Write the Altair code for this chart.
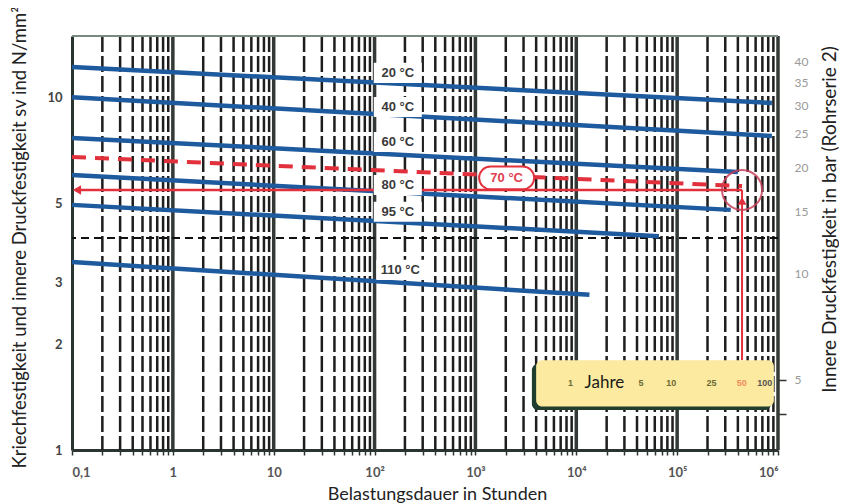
import altair as alt
import pandas as pd

# ---------------- data ----------------
temps = ["20 °C", "40 °C", "60 °C", "80 °C", "95 °C", "110 °C"]
t_start = [0.1, 0.1, 0.1, 0.1, 0.1, 0.1]
t_end = [8.7e5, 8.7e5, 4.0e5, 3.4e5, 6.6e4, 1.35e4]
s_start = [12.25, 10.05, 7.7, 6.04, 4.97, 3.42]
s_end = [9.68, 7.8, 6.16, 4.81, 4.05, 2.76]

label_t = [170, 170, 170, 170, 170, 180]
label_s = [11.78, 9.43, 7.5, 5.66, 4.75, 3.25]

# 70 °C (red dashed) curve
red70_t = [0.1, 4.4e5]
red70_s = [6.8, 5.62]
red70_label_t = [2040]
red70_label_s = [5.93]

# 50-year read-off
read_t = 4.4e5
read_s = 5.48

# year legend
years = ["1", "5", "10", "25", "50", "100"]
years_h = [8760, 43800, 87600, 219000, 438000, 740000]
years_color = ["#6b6b35", "#6b6b35", "#6b6b35", "#6b6b35", "#f08a60", "#555555"]

# axes
x_decades = [0.1, 1, 10, 100, 1000, 10000, 100000, 1000000]
x_labels = ["0,1", "1", "10", "10²", "10³", "10⁴", "10⁵", "10⁶"]
x_minor = [d * 10.0 ** k for k in range(-1, 6) for d in range(2, 10)]
y_left_ticks = [1, 2, 3, 5, 10]
y_right_ticks = [40, 35, 30, 25, 20, 15, 10, 5, 4]
h_dashed = [4]

BLUE = "#1d5a9e"
RED = "#e2303c"

W, H = 706, 414
xs = alt.Scale(type="log", domain=[0.1, 1e6])
ys = alt.Scale(type="log", domain=[1, 15])

# ---------------- build tables ----------------
rows = []
for i, t in enumerate(temps):
    rows.append({"temp": t, "t": t_start[i], "s": s_start[i], "o": 0})
    rows.append({"temp": t, "t": t_end[i], "s": s_end[i], "o": 1})
curves = pd.DataFrame(rows)
labels = pd.DataFrame({"temp": temps, "t": label_t, "s": label_s})
red70 = pd.DataFrame({"t": red70_t, "s": red70_s})
red70_lab = pd.DataFrame({"t": red70_label_t, "s": red70_label_s, "txt": ["70 °C"]})
minor = pd.DataFrame({"t": x_minor})
decades = pd.DataFrame({"t": x_decades[1:]})
hd = pd.DataFrame({"s": h_dashed})
yrs = pd.DataFrame({"txt": years, "t": years_h, "c": years_color, "s": [1.55] * 6})

lab_expr = " : ".join(
    f"datum.value == {v} ? '{l}'" for v, l in zip(x_decades, x_labels)
) + " : ''"

x_axis = alt.Axis(values=x_decades + x_minor, labelExpr=lab_expr, labelOverlap=False,
                  title="Belastungsdauer in Stunden", titleFont="Lato", titleFontSize=18,
                  titleFontWeight="normal", titleColor="#222",
                  titleX=365, titleY=44, titleAlign="center", titleBaseline="middle",
                  labelFont="Lato", labelFontSize=13, labelFontWeight="bold",
                  labelColor="#555", labelPadding=11, tickSize=5, tickColor="#2b3530",
                  tickWidth=1.5, domainColor="#2b3530", domainWidth=3, grid=False)
y_axis = alt.Axis(values=y_left_ticks, title="Kriechfestigkeit und innere Druckfestigkeit sv ind N/mm²",
                  titleFont="Lato", titleFontSize=18.5, titleFontWeight="normal",
                  titleColor="#222", titleAngle=270, titleX=-53, titleY=201,
                  titleAlign="center", titleBaseline="middle",
                  labelFont="Lato", labelFontSize=13, labelFontWeight="bold",
                  labelColor="#444", labelPadding=10, ticks=False,
                  domainColor="#2b3530", domainWidth=3, grid=False)

X = lambda: alt.X("t:Q", scale=xs, axis=x_axis)
Y = lambda: alt.Y("s:Q", scale=ys, axis=y_axis)

# grid
g_minor = alt.Chart(minor).mark_rule(color="#1e1e1e", strokeWidth=2.5, strokeDash=[16, 4]).encode(x=X())
g_dec = alt.Chart(decades).mark_rule(color="#333a36", strokeWidth=3.5).encode(x=X())
g_h = alt.Chart(hd).mark_rule(color="#111", strokeWidth=2, strokeDash=[8, 5]).encode(y=Y())
top = alt.Chart(pd.DataFrame({"s": [15]})).mark_rule(color="#7a8a80", strokeWidth=2).encode(y=Y())

blue = alt.Chart(curves).mark_line(color=BLUE, strokeWidth=4.5).encode(
    x=X(), y=Y(), detail="temp:N", order="o:Q")
red_d = alt.Chart(red70).mark_line(color=RED, strokeWidth=4, strokeDash=[14, 9]).encode(x=X(), y=Y())

arrow_h = alt.Chart(pd.DataFrame({"t": [0.108], "t2": [read_t], "s": [read_s]})).mark_rule(
    color=RED, strokeWidth=2.5).encode(x=X(), x2="t2:Q", y=Y())
arrow_v = alt.Chart(pd.DataFrame({"t": [read_t], "s": [1.8], "s2": [read_s]})).mark_rule(
    color=RED, strokeWidth=2).encode(x=X(), y=Y(), y2="s2:Q")
head_l = alt.Chart(pd.DataFrame({"t": [0.112], "s": [read_s]})).mark_point(
    shape="triangle-left", filled=True, color=RED, size=90, opacity=1).encode(x=X(), y=Y())
head_u = alt.Chart(pd.DataFrame({"t": [read_t], "s": [5.1]})).mark_point(
    shape="triangle-up", filled=True, color=RED, size=80, opacity=1).encode(x=X(), y=Y())
circle = alt.Chart(pd.DataFrame({"t": [read_t], "s": [read_s]})).mark_point(
    shape="circle", filled=False, color="#c8405a", strokeWidth=2, size=1600, opacity=0.85).encode(x=X(), y=Y())

box_shape = "M-1,-0.42H1V0.42H-1Z"
lab_box = alt.Chart(labels).mark_point(shape=box_shape, filled=True, color="white", size=2304, opacity=1).encode(
    x=X(), y=Y())
lab_txt = alt.Chart(labels).mark_text(font="Liberation Sans", fontSize=13, fontWeight="bold", color="#3a3a3a").encode(
    x=X(), y=Y(), text="temp:N")

stadium = "M-0.6,-0.42H0.6A0.42,0.42 0 0 1 0.6,0.42H-0.6A0.42,0.42 0 0 1 -0.6,-0.42Z"
r_box = alt.Chart(red70_lab).mark_point(shape=stadium, filled=True, fill="white", stroke=RED,
                                         strokeWidth=2, size=2916, opacity=1).encode(x=X(), y=Y())
r_txt = alt.Chart(red70_lab).mark_text(font="Liberation Sans", fontSize=13, fontWeight="bold",
                                        color="#e04050").encode(x=X(), y=Y(), text="txt:N")

shadow = alt.Chart(pd.DataFrame({"t": [3630], "t2": [8.5e5], "s": [1.756], "s2": [1.30]})).mark_rect(
    color="#1e3d2c", cornerRadius=6).encode(x=X(), x2="t2:Q", y=Y(), y2="s2:Q")
lbox = alt.Chart(pd.DataFrame({"t": [4000], "t2": [9.1e5], "s": [1.80], "s2": [1.33]})).mark_rect(
    color="#fbea9f", cornerRadius=6).encode(x=X(), x2="t2:Q", y=Y(), y2="s2:Q")
yr_txt = alt.Chart(yrs).mark_text(font="Liberation Sans", fontSize=9, fontWeight="bold").encode(
    x=X(), y=Y(), text="txt:N", color=alt.Color("c:N", scale=None))
jahre = alt.Chart(pd.DataFrame({"t": [1.9e4], "s": [1.55], "txt": ["Jahre"]})).mark_text(
    font="Lato", fontSize=17, color="#1a1a1a").encode(x=X(), y=Y(), text="txt:N")

main = alt.layer(g_minor, g_dec, g_h, top, blue, red_d, arrow_h, arrow_v, head_l, head_u, circle,
                 lab_box, lab_txt, r_box, r_txt, shadow, lbox, yr_txt, jahre)

right = alt.Chart(pd.DataFrame({"b": y_right_ticks})).mark_point(opacity=0).encode(
    y=alt.Y("b:Q", scale=alt.Scale(type="log", domain=[3.16, 47.4]),
            axis=alt.Axis(orient="right", values=y_right_ticks,
                          labelExpr="datum.value == 4 ? '' : datum.label",
                          title="Innere Druckfestigkeit in bar (Rohrserie 2)",
                          titleFont="Lato", titleFontSize=19, titleFontWeight="normal",
                          titleColor="#222", titleAngle=270, titleX=51, titleY=183,
                          titleAlign="center", titleBaseline="middle",
                          labelFont="Lato", labelFontSize=12, labelColor="#999",
                          labelPadding=8, tickSize=8, tickWidth=1.5,
                          tickColor={"condition": {"test": "datum.value == 5 || datum.value == 4",
                                                   "value": "#333"}, "value": "transparent"},
                          domain=False, grid=False))
)

chart = alt.layer(main, right).resolve_scale(y="independent").properties(
    width=W, height=H,
    autosize=alt.AutoSizeParams(type="none"),
    padding={"left": 64, "top": 28, "right": 61, "bottom": 54},
    background="white",
).configure_view(stroke=None)

chart.save("out.html", embed_options={"renderer": "svg", "actions": False})
